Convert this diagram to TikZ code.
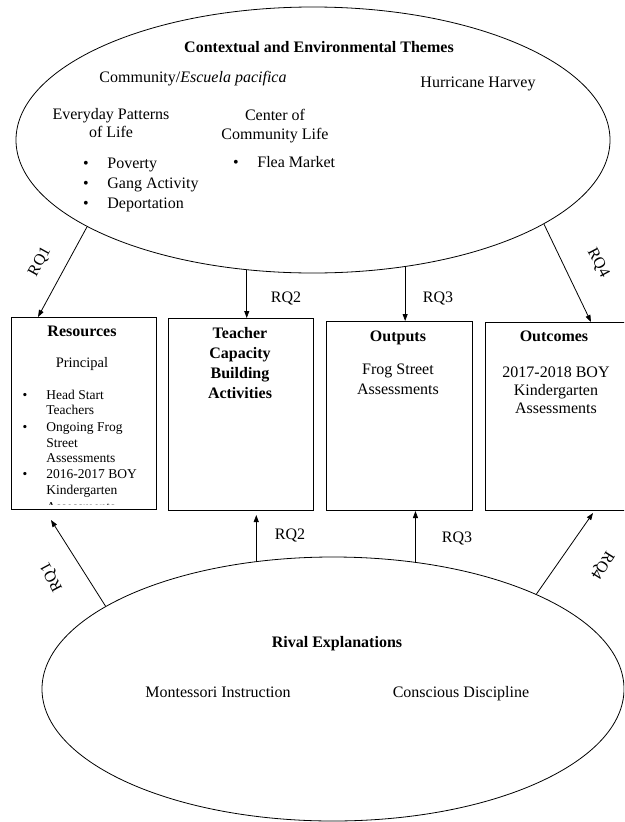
\documentclass[tikz,border=0pt]{standalone}
\usepackage{fontspec}
\setmainfont{Liberation Serif}
\usetikzlibrary{shapes.geometric,arrows.meta,calc}
\begin{document}
\begin{tikzpicture}[x=1pt,y=-1pt,
  line width=0.8pt,
  oval/.style={draw, ellipse, inner sep=0pt},
  boxx/.style={draw, rectangle, anchor=north west, inner sep=0pt},
  arr/.style={-{Triangle[length=7pt,width=5pt]}},
  tx/.style={font=\fontsize{16}{18}\selectfont, inner sep=0pt, anchor=base},
  tb/.style={font=\fontsize{16}{18}\selectfont\bfseries, inner sep=0pt, anchor=base},
  ts/.style={font=\fontsize{13.5}{15}\selectfont, inner sep=0pt, anchor=base west},
  tsb/.style={font=\fontsize{13.5}{15}\selectfont, inner sep=0pt, anchor=base},
  lab/.style={font=\fontsize{16}{18}\selectfont, inner sep=0pt},
]
\useasboundingbox (0,0) rectangle (624,822);
\clip (0,0) rectangle (624,822);

% ellipses
\node[oval, minimum width=594pt, minimum height=266pt] (top) at (313,140) {};
\node[oval, minimum width=582pt, minimum height=264pt] (bot) at (333,689) {};

% boxes
\node[boxx, minimum width=145pt, minimum height=192pt] (b1) at (11,317) {};
\node[boxx, minimum width=145pt, minimum height=192pt] (b2) at (168,318) {};
\node[boxx, minimum width=146pt, minimum height=189pt] (b3) at (326,321) {};
\node[boxx, minimum width=150pt, minimum height=188pt] (b4) at (485,322) {};

% top ellipse text
\node[tb] (ttl) at (319,52) {Contextual and Environmental Themes};
\node[tx] (comm) at (193,82) {Community/\textit{Escuela pacifica}};
\node[tx] (hh) at (478,87) {Hurricane Harvey};
\node[tx] (ev1) at (111,119) {Everyday Patterns};
\node[tx] (ev2) at (111,137) {of Life};
\node[tx] (cc1) at (275,120) {Center of};
\node[tx] (cc2) at (275,139) {Community Life};
\node[tx] (bd1) at (86,168) {\textbullet};
\node[tx] (bd2) at (86,188) {\textbullet};
\node[tx] (bd3) at (86,208) {\textbullet};
\node[tx, anchor=base west] (bt1) at (107,168) {Poverty};
\node[tx, anchor=base west] (bt2) at (107,188) {Gang Activity};
\node[tx, anchor=base west] (bt3) at (107,208) {Deportation};
\node[tx] (bd4) at (236,167) {\textbullet};
\node[tx, anchor=base west] (bt4) at (257,167) {Flea Market};

% box 1 text
\begin{scope}
\clip (11,317) rectangle (156,504);
\node[tb] (r1) at (82,336) {Resources};
\node[tx, font=\fontsize{14.5}{17}\selectfont] (r2) at (82,367) {Principal};
\node[tsb] (rb1) at (25,399) {\textbullet};
\node[ts] (rl1) at (46,399) {Head Start};
\node[ts] (rl2) at (46,414) {Teachers};
\node[tsb] (rb2) at (25,431) {\textbullet};
\node[ts] (rl3) at (46,431) {Ongoing Frog};
\node[ts] (rl4) at (46,447) {Street};
\node[ts] (rl5) at (46,462) {Assessments};
\node[tsb] (rb3) at (25,478) {\textbullet};
\node[ts] (rl6) at (46,478) {2016-2017 BOY};
\node[ts] (rl7) at (46,494) {Kindergarten};
\node[ts] (rl8) at (46,511) {Assessments};
\end{scope}

% box 2 text
\node[tb] (c1) at (240,338) {Teacher};
\node[tb] (c2) at (240,358) {Capacity};
\node[tb] (c3) at (240,378) {Building};
\node[tb] (c4) at (240,398) {Activities};

% box 3 text
\node[tb] (o1) at (398,341) {Outputs};
\node[tx] (o2) at (398,374) {Frog Street};
\node[tx] (o3) at (398,394) {Assessments};

% box 4 text
\node[tb] (u1) at (554,341) {Outcomes};
\node[tx] (u2) at (556,377) {2017-2018 BOY};
\node[tx] (u3) at (556,395) {Kindergarten};
\node[tx] (u4) at (556,413) {Assessments};

% bottom ellipse text
\node[tb] (rv) at (337,647) {Rival Explanations};
\node[tx] (mi) at (218,697) {Montessori Instruction};
\node[tx] (cd) at (461,697) {Conscious Discipline};

% top arrows
\draw[arr] (top.201) -- ($(b1.north west)+(27,0)$);
\draw[arr] (top.243.4) -- (top.243.4 |- b2.north);
\draw[arr] (top.-54.6) -- (top.-54.6 |- b3.north);
\draw[arr] (top.-20.8) -- ($(b4.north west)+(106,0)$);

\node[lab, rotate=61] (qa1) at (40,262) {RQ1};
\node[lab] (qa2) at (286,298) {RQ2};
\node[lab] (qa3) at (438,298) {RQ3};
\node[lab, rotate=-62] (qa4) at (598,263) {RQ4};

% bottom arrows
\coordinate (l1) at (51,520);
\coordinate (l2) at (253,515);
\coordinate (l3) at (413,511);
\coordinate (l4) at (593,513);
\draw[arr] (bot.160.5) -- (l1);
\draw[arr] (bot.121.9) -- (bot.121.9 |- l2);
\draw[arr] (bot.57.5) -- (bot.57.5 |- l3);
\draw[arr] (bot.25) -- (l4);

\node[lab, rotate=118] (qb1) at (52,577) {RQ1};
\node[lab] (qb2) at (290,535) {RQ2};
\node[lab] (qb3) at (457,538) {RQ3};
\node[lab, rotate=238] (qb4) at (602,565) {RQ4};
\end{tikzpicture}
\end{document}
